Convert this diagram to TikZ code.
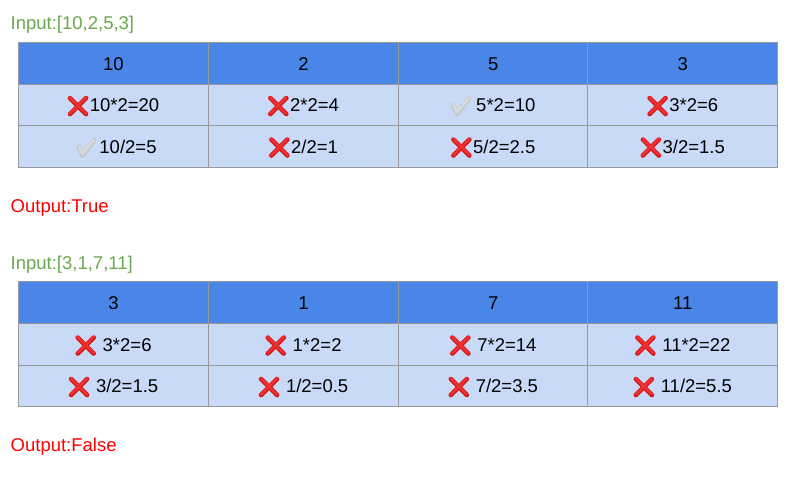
\documentclass[tikz,border=0pt]{standalone}
\usepackage{fontspec}
\setmainfont{Liberation Sans}
\usepackage{xcolor}
\definecolor{headblue}{HTML}{4A86E8}
\definecolor{bodyblue}{HTML}{C9DAF8}
\definecolor{gridgray}{HTML}{999999}
\definecolor{inputgreen}{HTML}{6AA84F}
\definecolor{outputred}{HTML}{FF0000}
\definecolor{crossdark}{HTML}{D61A1A}
\definecolor{crosslight}{HTML}{EE3030}
\definecolor{tickdark}{HTML}{C4C8CA}
\definecolor{ticklight}{HTML}{D9DADB}
\tikzset{
	headcell/.style={draw=gridgray,line width=1pt,fill=headblue,minimum width=190pt,minimum height=41.5pt,inner sep=0pt,outer sep=0pt,text height=13.5pt,text depth=0pt},
	bodycell/.style={headcell,fill=bodyblue},
	inputlabel/.style={anchor=base west,inner sep=0pt,text=inputgreen},
	outputlabel/.style={anchor=base west,inner sep=0pt,text=outputred}
}
\newsavebox{\crossbox}
\newsavebox{\tickbox}
\sbox{\crossbox}{\begin{tikzpicture}[x=1pt,y=-1pt,line cap=round]
	\draw[crossdark,line width=4.6pt] (2.5,2.5) -- (18.5,18.5);
	\draw[crossdark,line width=4.6pt] (18.5,2.5) -- (2.5,18.5);
	\draw[crosslight,line width=2.4pt] (2.5,2) -- (18.5,18);
	\draw[crosslight,line width=2.4pt] (18.5,2) -- (2.5,18);
\end{tikzpicture}}
\sbox{\tickbox}{\begin{tikzpicture}[x=1pt,y=-1pt,line cap=round,line join=round]
	\draw[tickdark,line width=4.6pt] (2.3,9) -- (6,17.7) -- (17.7,2.3);
	\draw[ticklight,line width=2.6pt] (2.5,8.6) -- (6,15.8) -- (17.4,2.2);
\end{tikzpicture}}
\newcommand{\crossmark}{\raisebox{-4.6pt}{\usebox{\crossbox}}\hspace{1.5pt}}
\newcommand{\tickmark}{\raisebox{-4.6pt}{\usebox{\tickbox}}}
\begin{document}
\begin{tikzpicture}[x=1pt,y=-1pt,font=\fontsize{18.5}{22}\selectfont]
	\useasboundingbox (0,0) rectangle (803,481);
	% first table
	\node[inputlabel] (inputa) at (10.5,30) {Input:[10,2,5,3]};
	\node[headcell] (a10) at (113.5,63.5) {10};
	\node[headcell] (a20) at (303.5,63.5) {2};
	\node[headcell] (a30) at (493.25,63.5) {5};
	\node[headcell] (a40) at (682.75,63.5) {3};
	\node[bodycell] (a11) at (113.5,105) {\crossmark10*2=20};
	\node[bodycell] (a21) at (303.5,105) {\crossmark2*2=4};
	\node[bodycell] (a31) at (493.25,105) {\tickmark\ 5*2=10};
	\node[bodycell] (a41) at (682.75,105) {\crossmark3*2=6};
	\node[bodycell] (a12) at (113.5,146.5) {\hspace{6pt}\tickmark\hspace{3pt}10/2=5};
	\node[bodycell] (a22) at (303.5,146.5) {\crossmark2/2=1};
	\node[bodycell] (a32) at (493.25,146.5) {\crossmark5/2=2.5};
	\node[bodycell] (a42) at (682.75,146.5) {\crossmark3/2=1.5};
	\node[outputlabel] (outputa) at (10.5,212) {Output:True};
	% second table
	\node[inputlabel] (inputb) at (10.5,269.5) {Input:[3,1,7,11]};
	\node[headcell] (b10) at (113.5,302.5) {3};
	\node[headcell] (b20) at (303.5,302.5) {1};
	\node[headcell] (b30) at (493.25,302.5) {7};
	\node[headcell] (b40) at (682.75,302.5) {11};
	\node[bodycell] (b11) at (113.5,344.5) {\crossmark\ 3*2=6};
	\node[bodycell] (b21) at (303.5,344.5) {\crossmark\ 1*2=2};
	\node[bodycell] (b31) at (493.25,344.5) {\crossmark\ 7*2=14};
	\node[bodycell] (b41) at (682.75,344.5) {\crossmark\ 11*2=22};
	\node[bodycell] (b12) at (113.5,386) {\crossmark\ 3/2=1.5};
	\node[bodycell] (b22) at (303.5,386) {\crossmark\ 1/2=0.5};
	\node[bodycell] (b32) at (493.25,386) {\crossmark\ 7/2=3.5};
	\node[bodycell] (b42) at (682.75,386) {\crossmark\ 11/2=5.5};
	\node[outputlabel] (outputb) at (10.5,451) {Output:False};
\end{tikzpicture}
\end{document}
